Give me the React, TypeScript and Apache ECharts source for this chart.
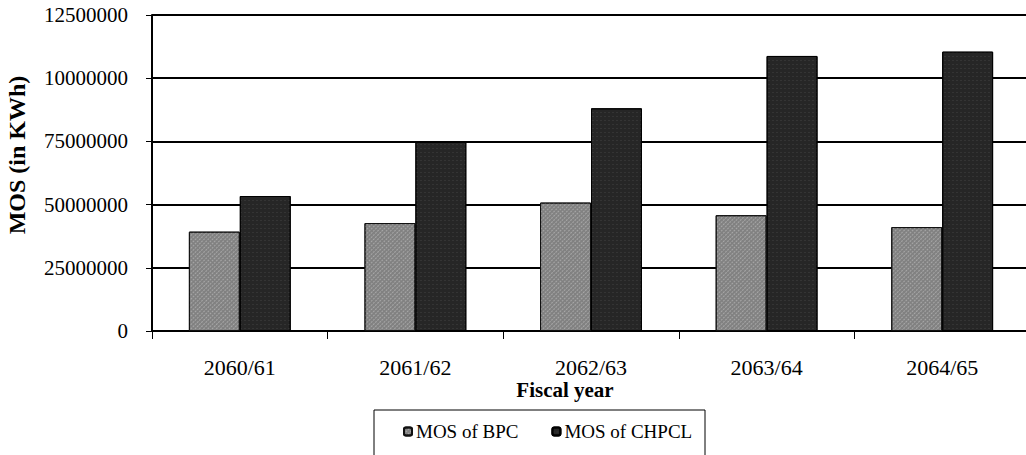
import React, { useEffect, useRef } from "react";
import * as echarts from "echarts";

const categories = ["2060/61", "2061/62", "2062/63", "2063/64", "2064/65"];
const bpcValues = [39300000, 42700000, 50800000, 45800000, 41100000];
const chpclValues = [53400000, 74800000, 88100000, 108800000, 110500000];
const yTickLabels = ["0", "25000000", "50000000", "75000000", "10000000", "12500000"];
const seriesNames = ["MOS of BPC", "MOS of CHPCL"];

export default function App() {
  const ref = useRef<HTMLDivElement>(null);
  useEffect(() => {
    const chart = echarts.init(ref.current!, null, { renderer: "svg" });
    const font = "'Liberation Serif', 'Times New Roman', serif";
    chart.setOption({
      animation: false,
      backgroundColor: "#ffffff",
      textStyle: { fontFamily: font },
      grid: {
        left: 152,
        right: -4,
        top: 15,
        bottom: 124,
        containLabel: false,
        outerBoundsMode: "none",
      },
      legend: {
        left: 403,
        top: 422,
        padding: 0,
        itemWidth: 8,
        itemHeight: 8,
        itemGap: 33,
        data: seriesNames,
        textStyle: { fontFamily: font, fontSize: 19, color: "#000", padding: [0, 0, 0, -1] },
      },
      graphic: [
        {
          type: "rect",
          shape: { x: 374, y: 410, width: 331, height: 60 },
          style: { fill: "none", stroke: "#000", lineWidth: 1 },
          silent: true,
        },
        {
          type: "text",
          x: 565,
          y: 390,
          style: {
            text: "Fiscal year",
            font: `bold 21px ${font}`,
            fill: "#000",
            textAlign: "center",
            textVerticalAlign: "middle",
          },
        },
        {
          type: "text",
          x: 17,
          y: 155,
          rotation: Math.PI / 2,
          style: {
            text: "MOS (in KWh)",
            font: `bold 24px ${font}`,
            fill: "#000",
            textAlign: "center",
            textVerticalAlign: "middle",
          },
        },
      ],
      xAxis: {
        type: "category",
        data: categories,
        boundaryGap: true,
        axisLine: { lineStyle: { color: "#000", width: 2 } },
        axisTick: { show: true, length: 8, alignWithLabel: false, lineStyle: { color: "#000", width: 1 } },
        axisLabel: { fontFamily: font, fontSize: 22, color: "#000", margin: 25 },
      },
      yAxis: {
        type: "value",
        min: 0,
        max: 125000000,
        interval: 25000000,
        axisLine: { show: true, lineStyle: { color: "#000", width: 2 } },
        axisTick: { show: true, length: 6, lineStyle: { color: "#000", width: 1 } },
        axisLabel: {
          fontFamily: font,
          fontSize: 21,
          color: "#000",
          margin: 24,
          formatter: (v: number) => yTickLabels[Math.round(v / 25000000)] ?? "",
        },
        splitLine: { show: true, lineStyle: { color: "#000", width: 2 } },
      },
      series: [
        {
          name: seriesNames[0],
          type: "bar",
          data: bpcValues,
          barGap: "0%",
          barCategoryGap: "42%",
          itemStyle: {
            color: "#808080",
            borderColor: "#111",
            borderWidth: 1,
            decal: {
              symbol: "circle",
              symbolSize: 0.6,
              dashArrayX: [3, 0],
              dashArrayY: [2, 1],
              color: "#c0c0c0",
              rotation: 0.785,
            },
          },
        },
        {
          name: seriesNames[1],
          type: "bar",
          data: chpclValues,
          itemStyle: {
            color: "#262626",
            borderColor: "#000",
            borderWidth: 1,
            decal: {
              symbol: "rect",
              symbolSize: 0.4,
              dashArrayX: [2, 2],
              dashArrayY: [1, 3],
              color: "#6a6a6a",
            },
          },
        },
      ],
    });
    return () => chart.dispose();
  }, []);
  return (
    <div
      ref={ref}
      style={{ position: "fixed", left: 0, top: 0, width: 1026, height: 455 }}
    />
  );
}
